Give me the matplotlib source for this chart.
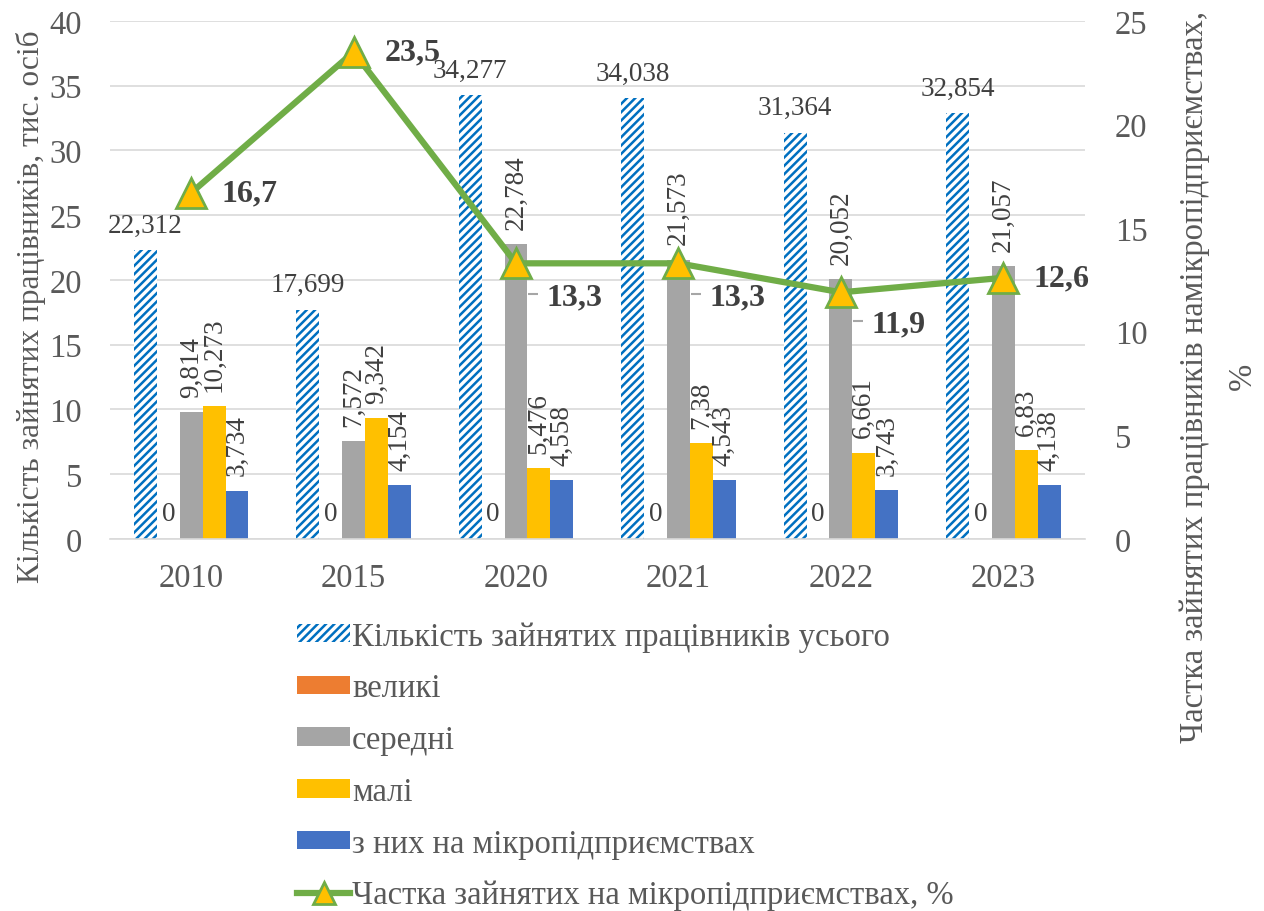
import matplotlib

matplotlib.use("Agg")
import matplotlib.pyplot as plt  # noqa: E402
import numpy as np  # noqa: E402
from matplotlib.transforms import offset_copy  # noqa: E402

years = ["2010", "2015", "2020", "2021", "2022", "2023"]
total = [22.312, 17.699, 34.277, 34.038, 31.364, 32.854]
large = [0, 0, 0, 0, 0, 0]
medium = [9.814, 7.572, 22.784, 21.573, 20.052, 21.057]
small = [10.273, 9.342, 5.476, 7.38, 6.661, 6.83]
micro = [3.734, 4.154, 4.558, 4.543, 3.743, 4.138]
micro_share = [16.7, 23.5, 13.3, 13.3, 11.9, 12.6]

series_names = [
    "Кількість зайнятих працівників усього",
    "великі",
    "середні",
    "малі",
    "з них на мікропідприємствах",
]
line_name = "Частка зайнятих на мікропідприємствах, %"

# vertical offset (points) of the bold share labels; labels that sit below
# the line get a short leader dash
share_dy = [0, 0, -24, -24, -23, 0]

TXT = "#595959"
LBL = "#404040"
GRID = "#D9D9D9"

plt.rcParams["font.family"] = ["Liberation Serif", "DejaVu Serif"]
plt.rcParams["hatch.linewidth"] = 1.8


def fmt(v):
    s = f"{v:.3f}".rstrip("0").rstrip(".")
    return s.replace(".", ",")


fig = plt.figure(figsize=(12.64, 9.12), dpi=100)
ax = fig.add_axes([0.087, 0.408, 0.771, 0.568])

x = np.arange(len(years))
w = 0.141
handles = []

# total, hatched
b = ax.bar(x - 2 * w, total, w, facecolor="white", edgecolor="#0070C0",
           hatch="////", linewidth=0, zorder=2)
handles.append(b)
for xi, v in zip(x - 2 * w, total):
    ax.annotate(fmt(v), (xi, v), xytext=(0, 9), textcoords="offset points",
                ha="center", va="bottom", fontsize=19.5, color=LBL)

b = ax.bar(x - w, large, w, color="#ED7D31", zorder=2)
handles.append(b)
for xi, v in zip(x - w, large):
    ax.annotate(fmt(v), (xi, v), xytext=(0, 9), textcoords="offset points",
                ha="center", va="bottom", fontsize=19.5, color=LBL)

for k, (vals, col) in enumerate([(medium, "#A5A5A5"), (small, "#FFC000"),
                                  (micro, "#4472C4")]):
    b = ax.bar(x + k * w, vals, w, color=col, zorder=2)
    handles.append(b)
    for xi, v in zip(x + k * w, vals):
        ax.annotate(fmt(v), (xi, v), xytext=(0, 11), textcoords="offset points",
                    ha="center", va="bottom", rotation=90, fontsize=19.5,
                    color=LBL)

ax.set_xlim(-0.5, len(years) - 0.5)
ax.set_ylim(0, 40)
ax.set_yticks(range(0, 41, 5))
ax.set_xticks(x, years)
ax.grid(axis="y", color=GRID, linewidth=1.2, zorder=0)
ax.set_axisbelow(True)
for s in ("top", "right", "left"):
    ax.spines[s].set_visible(False)
ax.spines["bottom"].set_color(GRID)
ax.spines["bottom"].set_linewidth(1.2)
ax.tick_params(length=0, labelsize=23.5, colors=TXT)
ax.tick_params(axis="x", pad=17)
ax.tick_params(axis="y", pad=20)
ax.set_ylabel("Кількість зайнятих працівників, тис. осіб", fontsize=22.6,
              color=TXT)
ax.yaxis.set_label_coords(-0.066, 0.45)

ax2 = ax.twinx()
ax2.set_ylim(0, 25)
ax2.set_yticks(range(0, 26, 5))
for s in ax2.spines.values():
    s.set_visible(False)
ax2.tick_params(length=0, labelsize=23.5, colors=TXT, pad=22)
ln, = ax2.plot(x, micro_share, color="#70AD47", linewidth=4.5, marker="^",
               markersize=22, markerfacecolor="#FFC000",
               markeredgecolor="#70AD47", markeredgewidth=2, zorder=5)
handles.append(ln)
for xi, v, dy in zip(x, micro_share, share_dy):
    ax2.annotate(f"{v:.1f}".replace(".", ","), (xi, v), xytext=(22, dy),
                 textcoords="offset points", ha="left", va="center",
                 fontsize=23, fontweight="bold", color=LBL, zorder=6)
    if dy:
        tr = offset_copy(ax2.transData, fig=fig, x=12.5, y=dy + 2,
                         units="points")
        ax2.plot([xi], [v], transform=tr, marker="_", markersize=7,
                 markeredgewidth=1.5, color="#A6A6A6", zorder=6)
ax2.set_ylabel("Частка зайнятих працівників намікропідприємствах,\n%",
               fontsize=23.5, color=TXT, linespacing=1.75)
ax2.yaxis.set_label_coords(1.097, 0.315)

fig.legend(handles, series_names + [line_name], loc="upper left",
           bbox_to_anchor=(0.2247, 0.332), frameon=False, fontsize=23.5,
           labelcolor=TXT, handlelength=1.63, handleheight=0.5,
           handletextpad=0.06, labelspacing=0.65, borderaxespad=0,
           markerscale=0.75)

fig.savefig("out.png", dpi=100)
plt.close(fig)
